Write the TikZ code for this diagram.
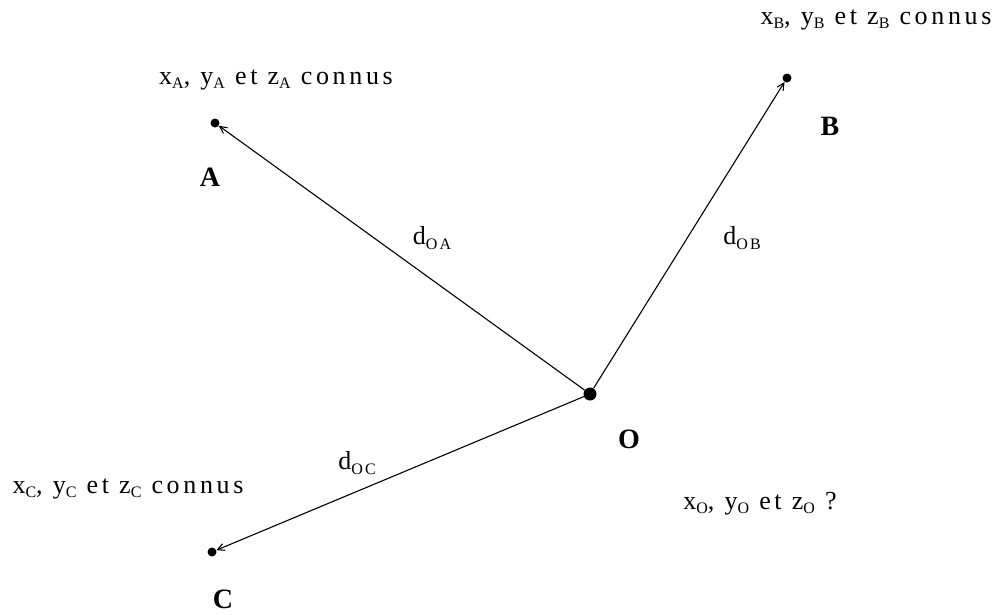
\documentclass[tikz,border=0pt]{standalone}
\usepackage{fontspec}
\setmainfont{Liberation Serif}
\newfontfamily\wide[LetterSpace=14]{Liberation Serif}
\usepackage{tikz}
\usetikzlibrary{arrows.meta,positioning}
\newcommand{\ix}[1]{\raisebox{-0.35ex}{\fontsize{16}{16}\selectfont #1}}

\begin{document}
\begin{tikzpicture}[
  x=1pt, y=-1pt,
  font=\wide\fontsize{26}{28}\selectfont,
  pt/.style={circle, fill=black, inner sep=0pt, minimum size=9pt},
  tag/.style={font=\rmfamily\bfseries\fontsize{28}{30}\selectfont, inner sep=1pt},
  arr/.style={-{Straight Barb[length=7pt,width=7pt]}, line width=1.1pt},
]
\useasboundingbox (0,0) rectangle (999,614);

\node[pt] (A) at (215,123) {};
\node[pt] (B) at (787,78) {};
\node[pt] (C) at (212,552) {};
\node[pt, minimum size=13pt] (O) at (590,394) {};

\node[tag] (tA) at (210,177) {A};
\node[tag] (tB) at (830,126) {B};
\node[tag] (tC) at (223,599) {C};
\node[tag] (tO) at (629,439) {O};

\node (cA) at (276,80) {x\ix{A}, y\ix{A} et z\ix{A} connus};
\node (cB) at (876,20) {x\ix{B}, y\ix{B} et z\ix{B} connus};
\node (cC) at (128,489) {x\ix{C}, y\ix{C} et z\ix{C} connus};
\node (cO) at (760,504) {x\ix{O}, y\ix{O} et z\ix{O} ?};

\draw[arr] (O) -- (A);
\draw[arr] (O) -- (B);
\draw[arr] (O) -- (C);

\node (dA) at (432,238) {d\ix{OA}};
\node (dB) at (742,238) {d\ix{OB}};
\node (dC) at (357,463) {d\ix{OC}};
\end{tikzpicture}
\end{document}
